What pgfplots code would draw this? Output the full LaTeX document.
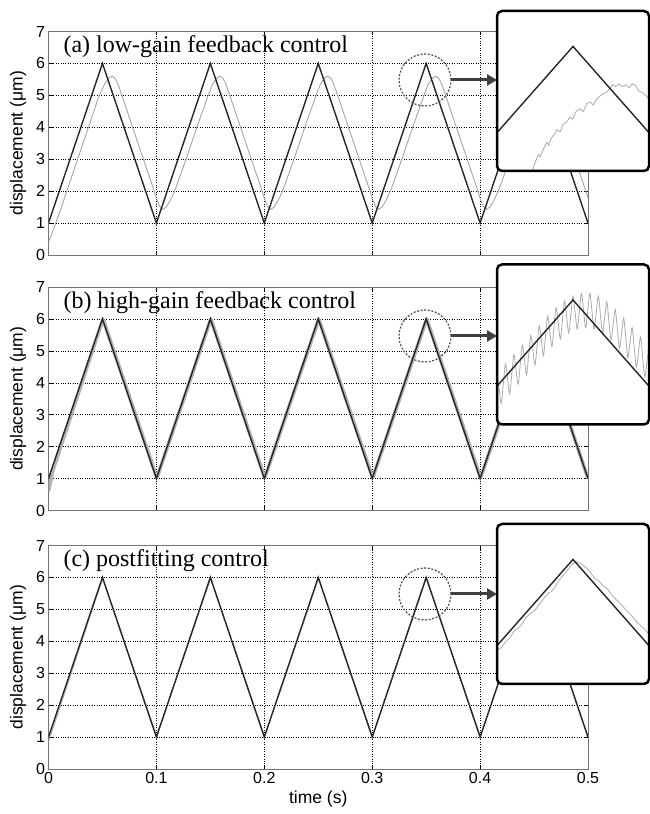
\documentclass[border=0pt]{standalone}
\usepackage{fontspec}
\setmainfont{Liberation Serif}
\newfontfamily\arial{Liberation Sans}
\usepackage{pgfplots}
\pgfplotsset{compat=1.18}
\usetikzlibrary{arrows.meta}

\pgfplotsset{
  mainax/.style={
    scale only axis, width=539.5pt, height=223.5pt, anchor=south west,
    xmin=0, xmax=0.5, ymin=0, ymax=7,
    xtick={0,0.1,0.2,0.3,0.4,0.5},
    ytick={0,1,2,3,4,5,6,7},
    yticklabels={0,1,2,3,4,5,6,7},
    grid=major,
    major grid style={black, line width=0.5pt, dash pattern=on 0.8pt off 1.6pt},
    axis line style={black!55, line width=0.7pt},
    tick style={black, line width=0.5pt}, tick align=inside, major tick length=4pt,
    /pgf/number format/assume math mode=true,
    ticklabel style={font=\arial\fontsize{16}{16}\selectfont},
    label style={font=\arial\fontsize{17.5}{18}\selectfont},
    ylabel={displacement (μm)},
    ylabel style={at={(axis description cs:-0.0565,0.5)}, anchor=center},
  },
  insetax/.style={
    scale only axis, width=152pt, height=160pt, anchor=south west,
    xmin=0.341, xmax=0.359, ymin=4.70, ymax=6.37,
    xtick=\empty, ytick=\empty, axis line style={draw=none},
  },
}
\tikzset{
  blk/.style={black!85, line width=1.4pt, line join=miter},
  ttl/.style={anchor=base west, font=\fontsize{24}{24}\selectfont, inner sep=0pt},
}

\begin{document}
\begin{tikzpicture}
\path[use as bounding box] (0pt,0pt) rectangle (650pt,814pt);

% ---------------- panel (a) ----------------
\begin{axis}[mainax, at={(48.5pt,559pt)}, xticklabels={}]
\addplot[gray!70, line width=0.9pt] coordinates {
 (0,0.4) (0.004,0.75) (0.008,1.12) (0.012,1.5) (0.017,2.0) (0.027,3.0) (0.037,4.0) (0.047,5.0)
 (0.052,5.35) (0.056,5.55) (0.059,5.6) (0.062,5.52) (0.065,5.3) (0.068,5.0) (0.078,4.0) (0.088,3.0) (0.098,2.0)
 (0.1,1.78) (0.103,1.52) (0.106,1.43) (0.109,1.5) (0.112,1.66) (0.115,1.86) (0.118,2.1) (0.128,3.05) (0.138,4.05) (0.148,5.0)
 (0.152,5.35) (0.156,5.55) (0.159,5.6) (0.162,5.52) (0.165,5.3) (0.168,5.0) (0.178,4.0) (0.188,3.0) (0.198,2.0)
 (0.2,1.78) (0.203,1.52) (0.206,1.43) (0.209,1.5) (0.212,1.66) (0.215,1.86) (0.218,2.1) (0.228,3.05) (0.238,4.05) (0.248,5.0)
 (0.252,5.35) (0.256,5.55) (0.259,5.6) (0.262,5.52) (0.265,5.3) (0.268,5.0) (0.278,4.0) (0.288,3.0) (0.298,2.0)
 (0.3,1.78) (0.303,1.52) (0.306,1.43) (0.309,1.5) (0.312,1.66) (0.315,1.86) (0.318,2.1) (0.328,3.05) (0.338,4.05) (0.348,5.0)
 (0.352,5.35) (0.356,5.55) (0.359,5.6) (0.362,5.52) (0.365,5.3) (0.368,5.0) (0.378,4.0) (0.388,3.0) (0.398,2.0)
 (0.4,1.78) (0.403,1.52) (0.406,1.43) (0.409,1.5) (0.412,1.66) (0.415,1.86) (0.418,2.1) (0.428,3.05) (0.438,4.05) (0.448,5.0)
 (0.452,5.35) (0.456,5.55) (0.459,5.6) (0.462,5.52) (0.465,5.3) (0.468,5.0) (0.478,4.0) (0.488,3.0) (0.498,2.0) (0.5,1.78)
};
\addplot[blk] coordinates {
 (0,1) (0.05,6) (0.1,1) (0.15,6) (0.2,1) (0.25,6) (0.3,1) (0.35,6) (0.4,1) (0.45,6) (0.5,1)
};
\node[ttl] at (rel axis cs:0.0275,0.904) {(a) low-gain feedback control};
\end{axis}

% ---------------- panel (b) ----------------
\begin{axis}[mainax, at={(48.5pt,303.5pt)}, xticklabels={}]
\addplot[gray!60, line width=3.6pt, line join=round] coordinates {
 (0,0.6) (0.004,1.25) (0.0505,6.0) (0.1005,1.02) (0.1505,6.0) (0.2005,1.02) (0.2505,6.0)
 (0.3005,1.02) (0.3505,6.0) (0.4005,1.02) (0.4505,6.0) (0.5,1.0)
};
\addplot[blk] coordinates {
 (0,1) (0.05,6) (0.1,1) (0.15,6) (0.2,1) (0.25,6) (0.3,1) (0.35,6) (0.4,1) (0.45,6) (0.5,1)
};
\node[ttl] at (rel axis cs:0.0275,0.904) {(b) high-gain feedback control};
\end{axis}

% ---------------- panel (c) ----------------
\begin{axis}[mainax, at={(48.5pt,45pt)},
  xticklabels={0,0.1,0.2,0.3,0.4,0.5},
  xlabel={time (s)},
  xlabel style={at={(axis description cs:0.5,-0.134)}, anchor=center}]
\addplot[gray!60, line width=1pt] coordinates {
 (0,0.85) (0.0503,5.98) (0.1003,1.02) (0.1503,5.98) (0.2003,1.02) (0.2503,5.98)
 (0.3003,1.02) (0.3503,5.98) (0.4003,1.02) (0.4503,5.98) (0.5,1.02)
};
\addplot[blk] coordinates {
 (0,1) (0.05,6) (0.1,1) (0.15,6) (0.2,1) (0.25,6) (0.3,1) (0.35,6) (0.4,1) (0.45,6) (0.5,1)
};
\node[ttl] at (rel axis cs:0.0275,0.907) {(c) postfitting control};
\end{axis}

% ---------------- circles and arrows ----------------
\foreach \yc in {734,478,220} {
  \draw[black!70, line width=1.2pt, dash pattern=on 2pt off 1.6pt] (425pt,\yc pt) circle[radius=26pt];
  \draw[black!75, line width=3pt, -{Triangle[length=10pt,width=11pt]}] (451pt,\yc pt) -- (497pt,\yc pt);
}

% ---------------- inset (a) ----------------
\fill[white, rounded corners=5pt] (497pt,643pt) rectangle (649pt,803pt);
\begin{axis}[insetax, at={(497pt,643pt)}]
\addplot[gray!65, line width=0.8pt] coordinates {
 (0.34513,4.68) (0.34552,4.79) (0.34591,4.875) (0.34611,4.85) (0.3465,4.93) (0.3469,5.0) (0.3471,4.97)
 (0.34748,5.05) (0.34788,5.09) (0.34807,5.13) (0.34847,5.11) (0.34886,5.19) (0.34925,5.21) (0.34965,5.26)
 (0.34996,5.24) (0.35035,5.32) (0.35083,5.35) (0.35122,5.32) (0.35161,5.40) (0.352,5.42) (0.3524,5.39)
 (0.35279,5.45) (0.35318,5.48) (0.35358,5.51) (0.35397,5.52) (0.35436,5.56) (0.35468,5.60) (0.35507,5.58)
 (0.35546,5.61) (0.35586,5.58) (0.35625,5.60) (0.35664,5.57) (0.35703,5.61) (0.35743,5.59) (0.35782,5.53)
 (0.35821,5.52) (0.35861,5.49) (0.359,5.45)
};
\addplot[blk] coordinates {(0.341,5.1) (0.35,6.0) (0.359,5.1)};
\end{axis}
\draw[black, line width=2.5pt, rounded corners=5pt] (497pt,643pt) rectangle (649pt,803pt);

% ---------------- inset (b) ----------------
\fill[white, rounded corners=5pt] (497pt,389.5pt) rectangle (649pt,549.5pt);
\begin{axis}[insetax, at={(497pt,389.5pt)}]
\addplot[gray!65, line width=0.8pt, smooth] coordinates {
 (0.341,5.23) (0.34125,5.075) (0.3415,4.92) (0.34175,5.125) (0.342,5.33) (0.34225,5.175) (0.3425,5.02) (0.34275,5.225)
 (0.343,5.43) (0.34325,5.275) (0.3435,5.12) (0.34375,5.325) (0.344,5.53) (0.34425,5.375) (0.3445,5.22) (0.34475,5.425)
 (0.345,5.63) (0.34525,5.475) (0.3455,5.32) (0.34575,5.525) (0.346,5.73) (0.34625,5.575) (0.3465,5.42) (0.34675,5.625)
 (0.347,5.83) (0.34725,5.67) (0.3475,5.515) (0.34775,5.72) (0.348,5.92) (0.34825,5.76) (0.3485,5.595) (0.34875,5.79)
 (0.349,5.99) (0.34925,5.82) (0.3495,5.655) (0.34975,5.85) (0.350,6.04) (0.35025,5.87) (0.3505,5.695) (0.35075,5.88)
 (0.351,6.07) (0.35125,5.89) (0.3515,5.71) (0.35175,5.89) (0.352,6.07) (0.35225,5.88) (0.3525,5.695) (0.35275,5.87)
 (0.353,6.04) (0.35325,5.845) (0.3535,5.65) (0.35375,5.815) (0.354,5.98) (0.35425,5.78) (0.3545,5.58) (0.35475,5.74)
 (0.355,5.90) (0.35525,5.70) (0.3555,5.495) (0.35575,5.65) (0.356,5.81) (0.35625,5.605) (0.3565,5.40) (0.35675,5.555)
 (0.357,5.71) (0.35725,5.505) (0.3575,5.30) (0.35775,5.455) (0.358,5.61) (0.35825,5.405) (0.3585,5.20) (0.35875,5.355)
 (0.359,5.51)
};
\addplot[blk] coordinates {(0.341,5.1) (0.35,6.0) (0.359,5.1)};
\end{axis}
\draw[black, line width=2.5pt, rounded corners=5pt] (497pt,389.5pt) rectangle (649pt,549.5pt);

% ---------------- inset (c) ----------------
\fill[white, rounded corners=5pt] (497pt,130pt) rectangle (649pt,290pt);
\begin{axis}[insetax, at={(497pt,130pt)}]
\addplot[gray!65, line width=0.8pt] coordinates {
 (0.341,5.05) (0.3415,5.08) (0.342,5.14) (0.3425,5.18) (0.343,5.25) (0.3435,5.28) (0.344,5.33) (0.3445,5.40)
 (0.345,5.44) (0.3455,5.47) (0.346,5.53) (0.3465,5.59) (0.347,5.64) (0.3475,5.67) (0.348,5.73) (0.3485,5.80)
 (0.349,5.85) (0.3497,5.93) (0.3503,5.98) (0.351,5.95) (0.3515,5.92) (0.352,5.87) (0.3525,5.81) (0.353,5.78)
 (0.3535,5.73) (0.354,5.70) (0.3545,5.64) (0.355,5.59) (0.3555,5.55) (0.356,5.50) (0.3565,5.45) (0.357,5.41)
 (0.3575,5.35) (0.358,5.31) (0.3585,5.27) (0.359,5.22)
};
\addplot[blk] coordinates {(0.341,5.1) (0.35,6.0) (0.359,5.1)};
\end{axis}
\draw[black, line width=2.5pt, rounded corners=5pt] (497pt,130pt) rectangle (649pt,290pt);

\end{tikzpicture}
\end{document}
